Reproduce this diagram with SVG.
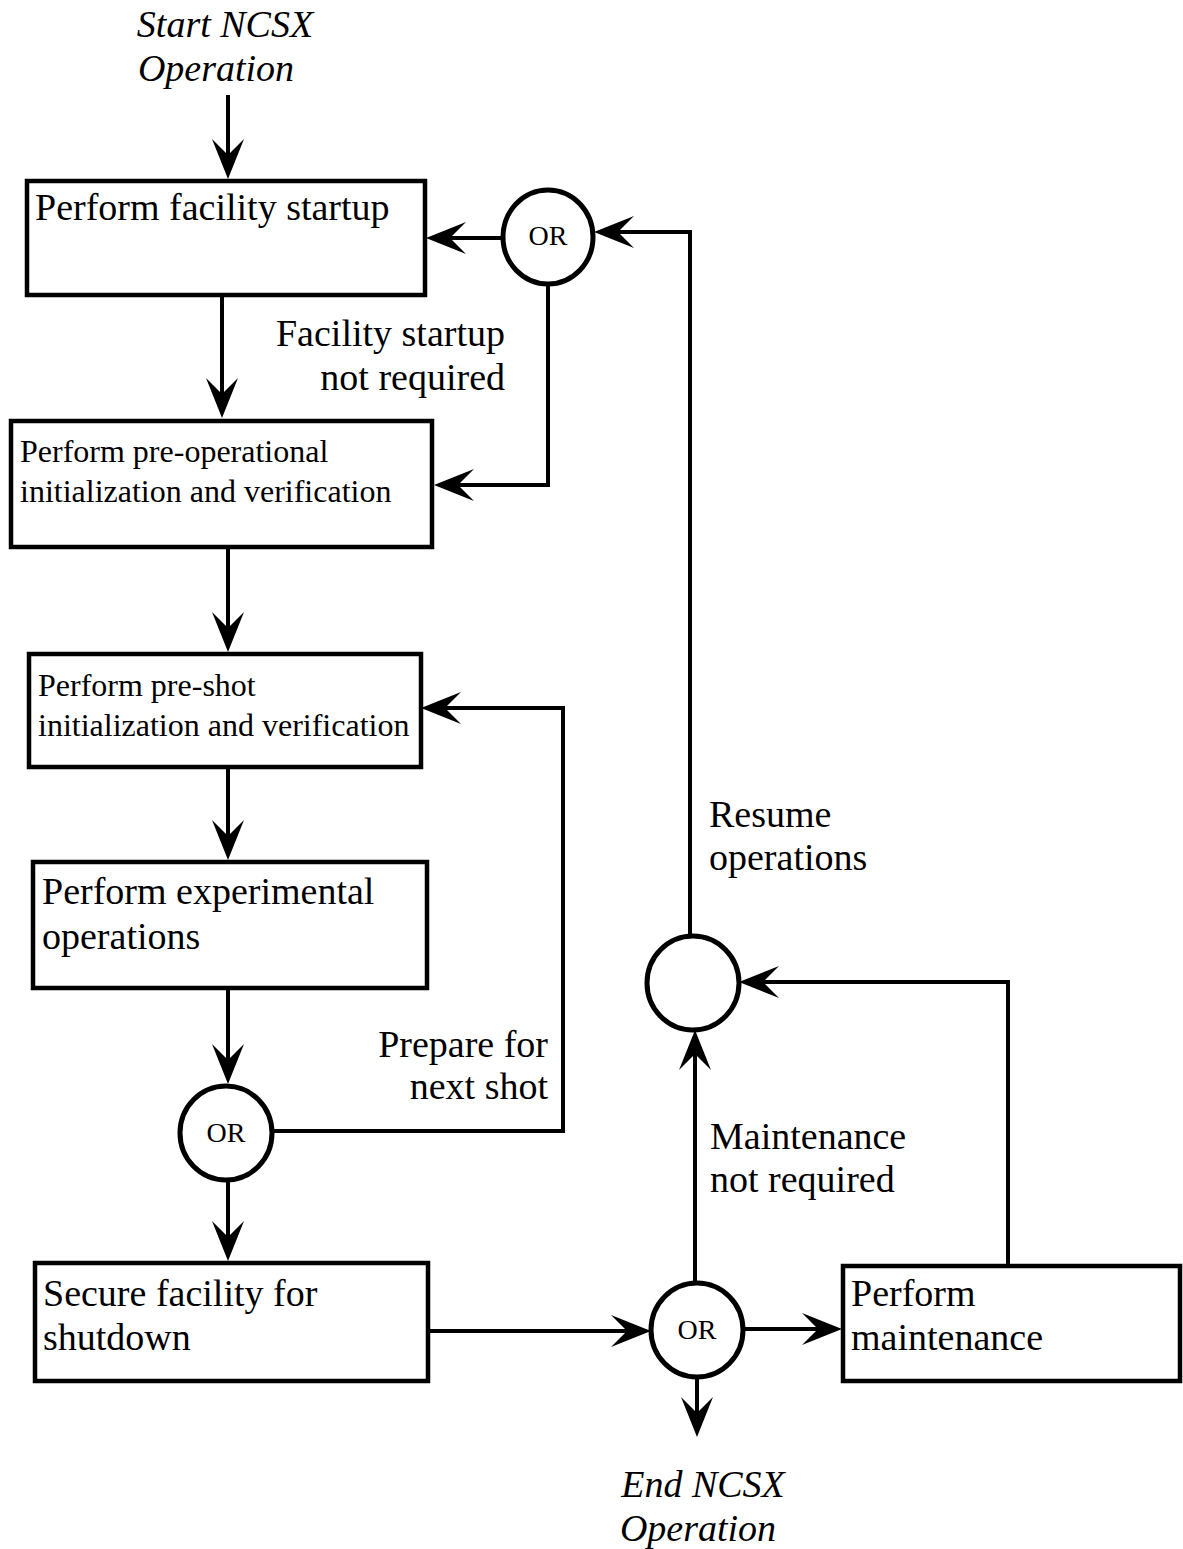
<svg xmlns="http://www.w3.org/2000/svg" width="1183" height="1549" viewBox="0 0 1183 1549">
<style>
.box{fill:#fff;stroke:#000;stroke-width:4.5}
.gate{fill:#fff;stroke:#000;stroke-width:5}
.wire{fill:none;stroke:#000;stroke-width:4}
.t{font-family:"Liberation Serif","Times New Roman",serif;font-size:38px;fill:#000}
.ts{font-family:"Liberation Serif","Times New Roman",serif;font-size:32px;fill:#000}
.ti{font-family:"Liberation Serif","Times New Roman",serif;font-size:38px;font-style:italic;fill:#000}
.or{font-family:"Liberation Serif","Times New Roman",serif;font-size:28px;fill:#000}
</style>
<defs>
<marker id="ah" viewBox="-44 -20 46 40" refX="-20" refY="0" markerWidth="46" markerHeight="40" markerUnits="userSpaceOnUse" orient="auto">
<path d="M0,0 L-40,-16 L-24,0 L-40,16 Z" fill="#000"/>
</marker>
</defs>
<rect width="1183" height="1549" fill="#fff"/>

<g id="start">
<text class="ti" x="225" y="37" text-anchor="middle">Start NCSX</text>
<text class="ti" x="216" y="81" text-anchor="middle">Operation</text>
</g>

<g id="connectors">
<path class="wire" d="M228,95 L228,159" marker-end="url(#ah)"/>
<path class="wire" d="M503,238 L446,238" marker-end="url(#ah)"/>
<path class="wire" d="M690,936 L690,232 L614,232" marker-end="url(#ah)"/>
<path class="wire" d="M548,284 L548,485 L454,485" marker-end="url(#ah)"/>
<path class="wire" d="M222,295 L222,398" marker-end="url(#ah)"/>
<path class="wire" d="M228,547 L228,632" marker-end="url(#ah)"/>
<path class="wire" d="M272,1131 L563,1131 L563,708 L441,708" marker-end="url(#ah)"/>
<path class="wire" d="M228,767 L228,840" marker-end="url(#ah)"/>
<path class="wire" d="M228,988 L228,1064" marker-end="url(#ah)"/>
<path class="wire" d="M228,1181 L228,1241" marker-end="url(#ah)"/>
<path class="wire" d="M429,1331 L631,1331" marker-end="url(#ah)"/>
<path class="wire" d="M743,1329 L822,1329" marker-end="url(#ah)"/>
<path class="wire" d="M697,1377 L697,1417" marker-end="url(#ah)"/>
<path class="wire" d="M1008,1266 L1008,982 L759,982" marker-end="url(#ah)"/>
<path class="wire" d="M695,1283 L695,1050" marker-end="url(#ah)"/>
</g>

<g id="lbl-startup">
<text class="t" x="505" y="346" text-anchor="end">Facility startup</text>
<text class="t" x="505" y="390" text-anchor="end">not required</text>
</g>
<g id="lbl-nextshot">
<text class="t" x="548" y="1057" text-anchor="end">Prepare for</text>
<text class="t" x="548" y="1099" text-anchor="end">next shot</text>
</g>
<g id="lbl-maint">
<text class="t" x="710" y="1149">Maintenance</text>
<text class="t" x="710" y="1192">not required</text>
</g>
<g id="lbl-resume">
<text class="t" x="709" y="827">Resume</text>
<text class="t" x="709" y="870">operations</text>
</g>

<g id="n-startup">
<rect class="box" x="27" y="181" width="398" height="114"/>
<text class="t" x="35" y="220">Perform facility startup</text>
</g>
<g id="or-1">
<ellipse class="gate" cx="548" cy="237" rx="45" ry="47"/>
<text class="or" x="548" y="245" text-anchor="middle">OR</text>
</g>
<g id="n-preop">
<rect class="box" x="11" y="421" width="421" height="126"/>
<text class="ts" x="20" y="462">Perform pre-operational</text>
<text class="ts" x="20" y="502">initialization and verification</text>
</g>
<g id="n-preshot">
<rect class="box" x="29" y="654" width="392" height="113"/>
<text class="ts" x="38" y="696">Perform pre-shot</text>
<text class="ts" x="38" y="736">initialization and verification</text>
</g>
<g id="n-exp">
<rect class="box" x="33" y="862" width="394" height="126"/>
<text class="t" x="42" y="904">Perform experimental</text>
<text class="t" x="42" y="949">operations</text>
</g>
<g id="or-2">
<ellipse class="gate" cx="226" cy="1133" rx="46" ry="47"/>
<text class="or" x="226" y="1142" text-anchor="middle">OR</text>
</g>
<g id="n-secure">
<rect class="box" x="35" y="1263" width="393" height="118"/>
<text class="t" x="43" y="1306">Secure facility for</text>
<text class="t" x="43" y="1350">shutdown</text>
</g>
<g id="or-3">
<ellipse class="gate" cx="697" cy="1330" rx="46" ry="47"/>
<text class="or" x="697" y="1339" text-anchor="middle">OR</text>
</g>
<g id="n-maint">
<rect class="box" x="843" y="1266" width="337" height="115"/>
<text class="t" x="851" y="1306">Perform</text>
<text class="t" x="851" y="1350">maintenance</text>
</g>
<g id="junction">
<ellipse class="gate" cx="693" cy="983" rx="46" ry="47"/>
</g>
<g id="end">
<text class="ti" x="703" y="1497" text-anchor="middle">End NCSX</text>
<text class="ti" x="698" y="1541" text-anchor="middle">Operation</text>
</g>
</svg>
